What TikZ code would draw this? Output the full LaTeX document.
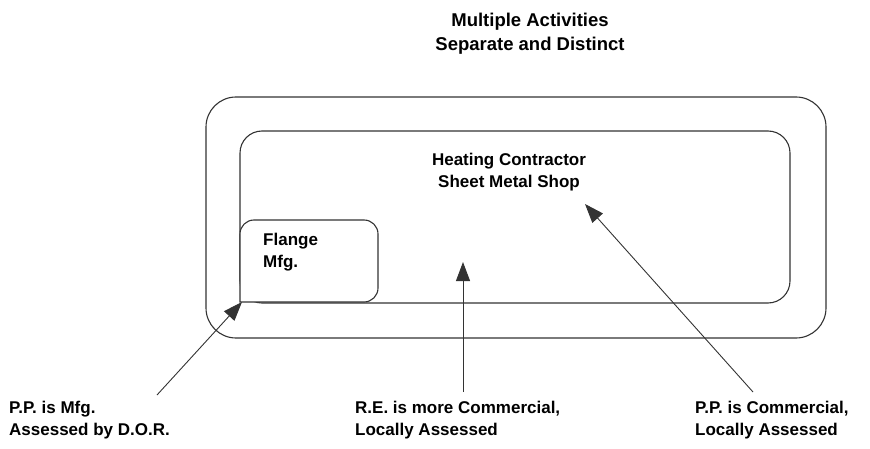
\documentclass[tikz,border=0pt]{standalone}
\usepackage{fontspec}
\setmainfont{Liberation Sans}
\usetikzlibrary{arrows.meta}
\begin{document}
\begin{tikzpicture}[x=1pt,y=-1pt,
  boxline/.style={draw=black!80,line width=1.1pt},
  lbl/.style={font=\bfseries\fontsize{17}{21.5}\selectfont,align=left,inner sep=0pt},
  ttl/.style={font=\bfseries\fontsize{18.5}{24}\selectfont,align=center,inner sep=0pt},
  arr/.style={draw=black!80,line width=0.9pt,-{Triangle[length=19pt,width=14pt]}}]
\useasboundingbox (0,0) rectangle (870,449);
\node[ttl] (title) at (530,34) {Multiple Activities\\Separate and Distinct};
\draw[boxline,rounded corners=30pt] (206,97) rectangle (826,338);
\draw[boxline,rounded corners=22pt] (240,131) rectangle (790,303);
\draw[boxline,fill=white] (240,302) [rounded corners=14pt] -- (240,220) -- (378,220) -- (378,302) [sharp corners] -- cycle;
\node[lbl,align=center] (shop) at (509,172) {Heating Contractor\\Sheet Metal Shop};
\node[lbl,anchor=north west] (flange) at (263,233) {Flange\\Mfg.};
\coordinate (t1) at (242,302);
\coordinate (t2) at (463,262);
\coordinate (t3) at (585,204);
\node[lbl,anchor=north west] (l1) at (9,401) {P.P. is Mfg.\\Assessed by D.O.R.};
\node[lbl,anchor=north west] (l2) at (355,401) {R.E. is more Commercial,\\Locally Assessed};
\node[lbl,anchor=north west] (l3) at (695,401) {P.P. is Commercial,\\Locally Assessed};
\coordinate (s1) at (157,395);
\coordinate (s2) at (463,392);
\coordinate (s3) at (753,392);
\draw[arr] (s1) -- (t1);
\draw[arr] (s2) -- (t2);
\draw[arr] (s3) -- (t3);
\end{tikzpicture}
\end{document}
